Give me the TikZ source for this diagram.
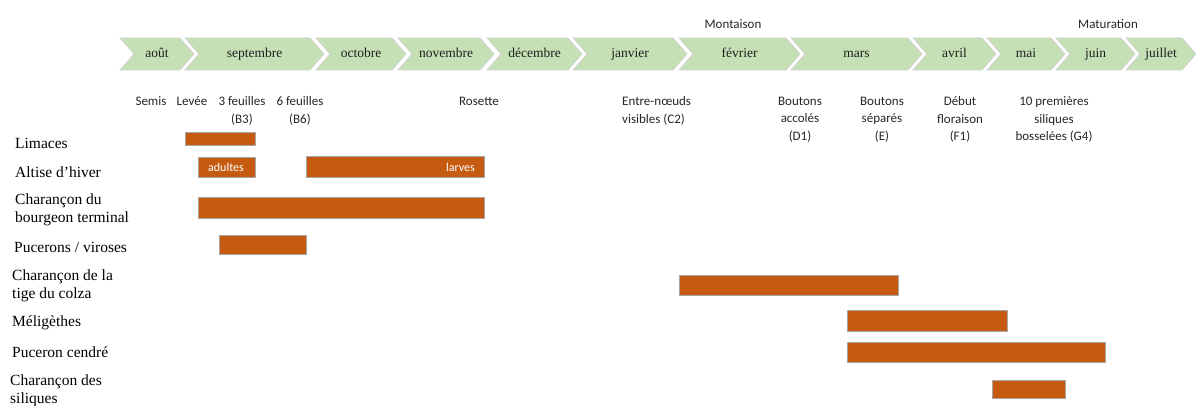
\documentclass[tikz,border=0pt]{standalone}
\usepackage{fontspec}
\setmainfont{Liberation Serif}
\newfontfamily\calfont{Carlito}
\definecolor{chevgreen}{HTML}{C5E0B4}
\definecolor{barorange}{HTML}{C55A11}
\newcommand\mychev[4]{%
  \path[chev] (#2,38) -- (#3,38) -- ({#3+14},54) -- (#3,70) -- (#2,70) -- ({#2+14},54) -- cycle;
  \node[month] (#1) at ({(#2+#3+14)/2},58) {#4};
}
\begin{document}
\begin{tikzpicture}[x=1pt,y=-1pt,
  chev/.style={fill=chevgreen,draw=black!18,line width=0.7pt,line join=miter},
  month/.style={anchor=base,inner sep=0pt,text=black!88,font=\fontsize{13.5}{16}\selectfont},
  phase/.style={anchor=base,inner sep=0pt,text=black!85,font=\calfont\fontsize{13}{16}\selectfont},
  stage/.style={anchor=north,inner sep=0pt,align=center,text=black!85,font=\calfont\fontsize{13}{17.5}\selectfont},
  pest/.style={anchor=west,inner sep=0pt,align=left,text=black,font=\fontsize{15.5}{18}\selectfont},
  bar/.style={fill=barorange,draw=black!35,line width=0.4pt},
  barlabel/.style={inner sep=0pt,text=white,font=\calfont\fontsize{12}{13}\selectfont}]
\useasboundingbox (0,0) rectangle (1196,406);
% month chevrons
\mychev{aout}{120}{180}{août}
\mychev{sept}{185}{310}{septembre}
\mychev{oct}{316}{392}{octobre}
\mychev{nov}{398}{480}{novembre}
\mychev{dec}{487}{568}{décembre}
\mychev{janv}{573}{673}{janvier}
\mychev{fevr}{679}{786}{février}
\mychev{mars}{791}{908}{mars}
\mychev{avril}{913}{982}{avril}
\mychev{mai}{987}{1051}{mai}
\mychev{juin}{1056}{1121}{juin}
\mychev{juil}{1126}{1182}{juillet}
% phases
\node[phase] (montaison) at (733,29) {Montaison};
\node[phase] (maturation) at (1108,29) {Maturation};
% stages
\node[stage] (semis) at (151,96.5) {Semis};
\node[stage] (levee) at (192,96.5) {Levée};
\node[stage] (b3) at (242,96.5) {3 feuilles\\(B3)};
\node[stage] (b6) at (300,96.5) {6 feuilles\\(B6)};
\node[stage] (rosette) at (479,96.5) {Rosette};
\node[stage,align=left,anchor=north west] (c2) at (622,96.5) {Entre-nœuds\\visibles (C2)};
\node[stage] (d1) at (800,96.5) {Boutons\\accolés\\(D1)};
\node[stage] (e) at (882,96.5) {Boutons\\séparés\\(E)};
\node[stage] (f1) at (960,96.5) {Début\\floraison\\(F1)};
\node[stage] (g4) at (1054,96.5) {10 premières\\siliques\\bosselées (G4)};
% pests
\node[pest] (limaces) at (15,143) {Limaces};
\node[pest] (altise) at (15,172) {Altise d’hiver};
\node[pest] (bourgeon) at (15,210) {Charançon du\\bourgeon terminal};
\node[pest] (pucerons) at (14,247) {Pucerons / viroses};
\node[pest] (tige) at (12,286) {Charançon de la\\tige du colza};
\node[pest] (meli) at (12,323) {Méligèthes};
\node[pest] (cendre) at (12,352) {Puceron cendré};
\node[pest] (siliques) at (10,391) {Charançon des\\siliques};
% bars
\path[bar] (185,132) rectangle (255,145);
\path[bar] (198,157) rectangle (255,177);
\path[bar] (306,156) rectangle (484,177);
\node[barlabel] (adultes) at (226,167) {adultes};
\node[barlabel,anchor=east] (larves) at (475,167) {larves};
\path[bar] (198,197) rectangle (484,218);
\path[bar] (219,235) rectangle (306,254);
\path[bar] (679,275) rectangle (898,295);
\path[bar] (847,310) rectangle (1007,331);
\path[bar] (847,342) rectangle (1105,362);
\path[bar] (992,380) rectangle (1065,398);
\end{tikzpicture}
\end{document}
